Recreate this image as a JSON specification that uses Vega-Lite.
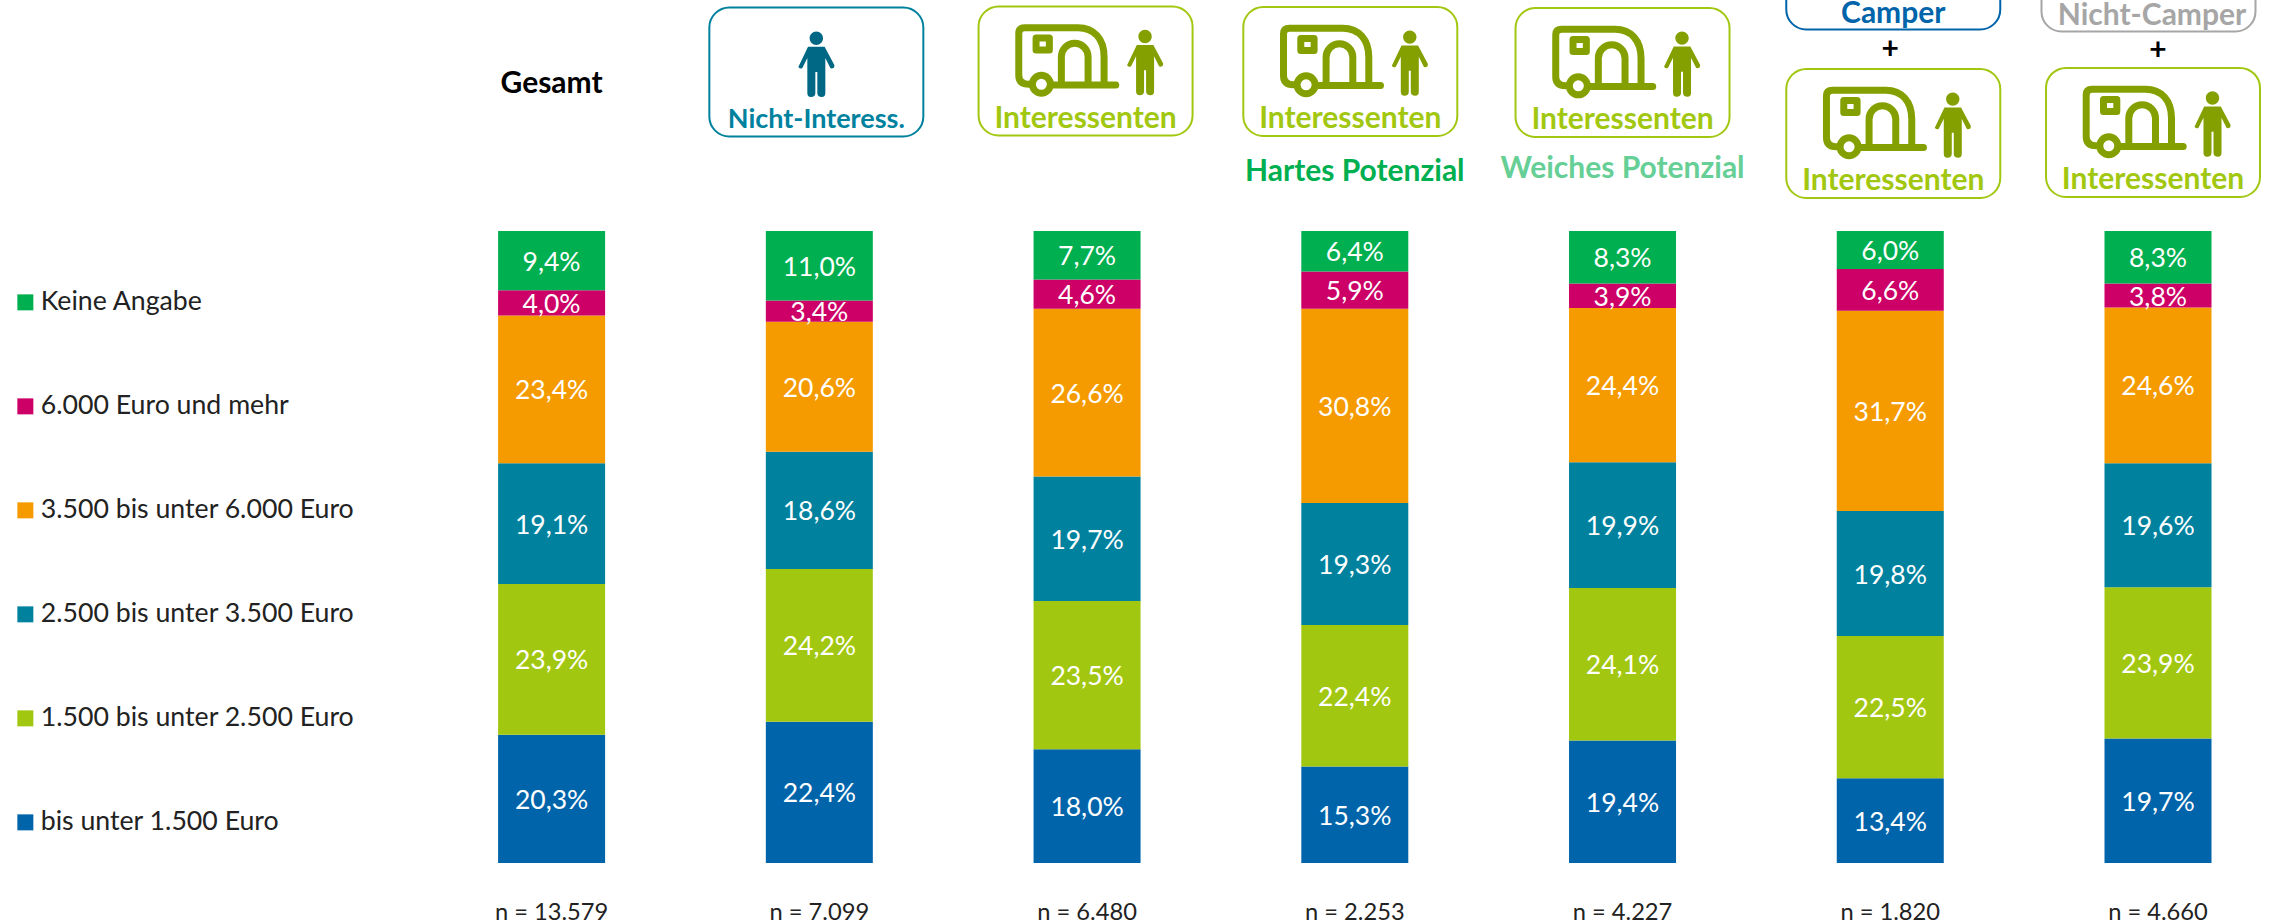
{
"$schema":"https://vega.github.io/schema/vega-lite/v6.json",
"width":2270,"height":924,"padding":0,
"autosize":{"type":"none"},
"background":"white",
"config":{"view":{"stroke":null},"text":{"font":"Lato"}},
"datasets":{
"segments":[
{"col":"Gesamt","band":"bis unter 1.500 Euro","rank":1,"value":20.3},{"col":"Gesamt","band":"1.500 bis unter 2.500 Euro","rank":2,"value":23.9},{"col":"Gesamt","band":"2.500 bis unter 3.500 Euro","rank":3,"value":19.1},{"col":"Gesamt","band":"3.500 bis unter 6.000 Euro","rank":4,"value":23.4},{"col":"Gesamt","band":"6.000 Euro und mehr","rank":5,"value":4.0},{"col":"Gesamt","band":"Keine Angabe","rank":6,"value":9.4},
{"col":"Nicht-Interess.","band":"bis unter 1.500 Euro","rank":1,"value":22.4},{"col":"Nicht-Interess.","band":"1.500 bis unter 2.500 Euro","rank":2,"value":24.2},{"col":"Nicht-Interess.","band":"2.500 bis unter 3.500 Euro","rank":3,"value":18.6},{"col":"Nicht-Interess.","band":"3.500 bis unter 6.000 Euro","rank":4,"value":20.6},{"col":"Nicht-Interess.","band":"6.000 Euro und mehr","rank":5,"value":3.4},{"col":"Nicht-Interess.","band":"Keine Angabe","rank":6,"value":11.0},
{"col":"Interessenten","band":"bis unter 1.500 Euro","rank":1,"value":18.0},{"col":"Interessenten","band":"1.500 bis unter 2.500 Euro","rank":2,"value":23.5},{"col":"Interessenten","band":"2.500 bis unter 3.500 Euro","rank":3,"value":19.7},{"col":"Interessenten","band":"3.500 bis unter 6.000 Euro","rank":4,"value":26.6},{"col":"Interessenten","band":"6.000 Euro und mehr","rank":5,"value":4.6},{"col":"Interessenten","band":"Keine Angabe","rank":6,"value":7.7},
{"col":"Hartes Potenzial","band":"bis unter 1.500 Euro","rank":1,"value":15.3},{"col":"Hartes Potenzial","band":"1.500 bis unter 2.500 Euro","rank":2,"value":22.4},{"col":"Hartes Potenzial","band":"2.500 bis unter 3.500 Euro","rank":3,"value":19.3},{"col":"Hartes Potenzial","band":"3.500 bis unter 6.000 Euro","rank":4,"value":30.8},{"col":"Hartes Potenzial","band":"6.000 Euro und mehr","rank":5,"value":5.9},{"col":"Hartes Potenzial","band":"Keine Angabe","rank":6,"value":6.4},
{"col":"Weiches Potenzial","band":"bis unter 1.500 Euro","rank":1,"value":19.4},{"col":"Weiches Potenzial","band":"1.500 bis unter 2.500 Euro","rank":2,"value":24.1},{"col":"Weiches Potenzial","band":"2.500 bis unter 3.500 Euro","rank":3,"value":19.9},{"col":"Weiches Potenzial","band":"3.500 bis unter 6.000 Euro","rank":4,"value":24.4},{"col":"Weiches Potenzial","band":"6.000 Euro und mehr","rank":5,"value":3.9},{"col":"Weiches Potenzial","band":"Keine Angabe","rank":6,"value":8.3},
{"col":"Camper","band":"bis unter 1.500 Euro","rank":1,"value":13.4},{"col":"Camper","band":"1.500 bis unter 2.500 Euro","rank":2,"value":22.5},{"col":"Camper","band":"2.500 bis unter 3.500 Euro","rank":3,"value":19.8},{"col":"Camper","band":"3.500 bis unter 6.000 Euro","rank":4,"value":31.7},{"col":"Camper","band":"6.000 Euro und mehr","rank":5,"value":6.6},{"col":"Camper","band":"Keine Angabe","rank":6,"value":6.0},
{"col":"Nicht-Camper","band":"bis unter 1.500 Euro","rank":1,"value":19.7},{"col":"Nicht-Camper","band":"1.500 bis unter 2.500 Euro","rank":2,"value":23.9},{"col":"Nicht-Camper","band":"2.500 bis unter 3.500 Euro","rank":3,"value":19.6},{"col":"Nicht-Camper","band":"3.500 bis unter 6.000 Euro","rank":4,"value":24.6},{"col":"Nicht-Camper","band":"6.000 Euro und mehr","rank":5,"value":3.8},{"col":"Nicht-Camper","band":"Keine Angabe","rank":6,"value":8.3}
],
"counts":[{"col":"Gesamt","n":"n = 13.579"},{"col":"Nicht-Interess.","n":"n = 7.099"},{"col":"Interessenten","n":"n = 6.480"},{"col":"Hartes Potenzial","n":"n = 2.253"},{"col":"Weiches Potenzial","n":"n = 4.227"},{"col":"Camper","n":"n = 1.820"},{"col":"Nicht-Camper","n":"n = 4.660"}],
"boxes":[
{"col":"Nicht-Interess.","label":"Nicht-Interess.","level":1.2516},
{"col":"Interessenten","label":"Interessenten","level":1.2532},
{"col":"Hartes Potenzial","label":"Interessenten","level":1.2524},
{"col":"Weiches Potenzial","label":"Interessenten","level":1.2508},
{"col":"Camper","label":"Interessenten","level":1.1543},
{"col":"Nicht-Camper","label":"Interessenten","level":1.1559},
{"col":"Camper","label":"Camper","level":1.4209},
{"col":"Nicht-Camper","label":"Nicht-Camper","level":1.4177}
],
"captions":[
{"col":"Gesamt","label":"Gesamt","level":1.2342},
{"col":"Hartes Potenzial","label":"Hartes Potenzial","level":1.0965},
{"col":"Weiches Potenzial","label":"Weiches Potenzial","level":1.0997},
{"col":"Camper","label":"+","level":1.2880},
{"col":"Nicht-Camper","label":"+","level":1.2864}
]
},
"encoding":{"x":{"field":"col","type":"nominal","axis":null,"scale":{"type":"point","padding":0,"domain":["Gesamt","Nicht-Interess.","Interessenten","Hartes Potenzial","Weiches Potenzial","Camper","Nicht-Camper"],"range":[551.6,2158]}}},
"layer":[
{"data":{"name":"segments"},
 "transform":[{"stack":"value","groupby":["col"],"offset":"normalize","sort":[{"field":"rank","order":"ascending"}],"as":["y0","y1"]},{"calculate":"(datum.y0+datum.y1)/2","as":"mid"},{"calculate":"replace(format(datum.value,'.1f'),'.',',')+'%'","as":"txt"}],
 "layer":[
  {"mark":{"type":"bar","width":107},
   "encoding":{"y":{"field":"y1","type":"quantitative","axis":null,"scale":{"domain":[-0.0965,1.3655],"nice":false,"zero":false}},"y2":{"field":"y0"},
   "color":{"field":"band","type":"nominal","scale":{"domain":["Keine Angabe","6.000 Euro und mehr","3.500 bis unter 6.000 Euro","2.500 bis unter 3.500 Euro","1.500 bis unter 2.500 Euro","bis unter 1.500 Euro"],"range":["#00AF50","#CC0066","#F59B00","#00829F","#A2C711","#0064AB"]},
    "legend":{"title":null,"orient":"none","legendX":12,"legendY":289,"padding":0,"symbolType":"square","symbolSize":256,"symbolStrokeWidth":0,"symbolOpacity":1,"labelFont":"Lato","labelFontSize":26.7,"labelColor":"#222222","labelOffset":2,"rowPadding":76,"labelLimit":500}}}},
  {"mark":{"type":"text","font":"Lato","fontSize":26.5,"color":"white","dy":2},
   "encoding":{"y":{"field":"mid","type":"quantitative","axis":null,"scale":{"domain":[-0.0965,1.3655],"nice":false,"zero":false}},"text":{"field":"txt"}}}
 ]},
{"data":{"name":"counts"},"mark":{"type":"text","font":"Lato","fontSize":23.7,"color":"#222222"},
 "encoding":{"y":{"datum":-0.0791,"type":"quantitative","axis":null,"scale":{"domain":[-0.0965,1.3655],"nice":false,"zero":false}},"text":{"field":"n"}}},
{"data":{"name":"boxes"},"layer":[
 {"mark":{"type":"rect","width":214,"height":129,"cornerRadius":20,"fill":"white","strokeWidth":2,"xOffset":{"expr":"{'Nicht-Interess.':-3,'Interessenten':-1.5,'Hartes Potenzial':-4.5,'Weiches Potenzial':0,'Camper':3,'Nicht-Camper':datum.label=='Nicht-Camper'?-9.5:-5}[datum.col]"}},
  "encoding":{"y":{"field":"level","type":"quantitative","axis":null,"scale":{"domain":[-0.0965,1.3655],"nice":false,"zero":false}},
  "stroke":{"field":"label","type":"nominal","legend":null,"scale":{"domain":["Nicht-Interess.","Interessenten","Camper","Nicht-Camper"],"range":["#00829F","#A2C711","#0064AB","#A6A6A6"]}}}},
 {"transform":[{"filter":"datum.label=='Interessenten'"}],
  "mark":{"type":"point","filled":false,"fill":"transparent","stroke":"#84A000","strokeWidth":7,"strokeCap":"round","strokeJoin":"round","opacity":1,"size":4,"yOffset":-11,
   "shape":"M-13.3 25L48.7 25M37 23.3L37 -3.3C37 -21 27 -32.3 11 -32.3L-42.3 -32.3Q-48.3 -32.3 -48.3 -26.7L-48.3 15Q-48.3 24.3 -38.3 24.3M-5.7 23.3L-5.7 -3.3A13.3 13.3 0 0 1 21 -3.3L21 23.3M-31 -22L-17.7 -22L-17.7 -10L-31 -10ZM-34.7 24.3a9 9 0 1 0 18 0a9 9 0 1 0 -18 0",
   "xOffset":{"expr":"{'Interessenten':-1.5,'Hartes Potenzial':-4.5,'Weiches Potenzial':0,'Camper':3,'Nicht-Camper':-5}[datum.col]-18.5"}},
  "encoding":{"y":{"field":"level","type":"quantitative","axis":null,"scale":{"domain":[-0.0965,1.3655],"nice":false,"zero":false}}}},
 {"transform":[{"filter":"datum.label=='Interessenten'"}],
  "mark":{"type":"point","filled":true,"fill":"#84A000","stroke":null,"opacity":1,"size":4,"yOffset":-7.7,
   "shape":"M0 -33.4a6.7 6.7 0 1 0 0 13.4a6.7 6.7 0 1 0 0 -13.4ZM-8.3 -18.3L8.3 -18.3L18 0Q18.5 3.5 15 3.5L14 3L9 -7L9 28Q9 32 5.5 32Q1 32 1 28L1 7L-1 7L-1 28Q-1 32 -5.5 32Q-9 32 -9 28L-9 -7L-14 3Q-16 4.5 -18 2Z",
   "xOffset":{"expr":"{'Interessenten':-1.5,'Hartes Potenzial':-4.5,'Weiches Potenzial':0,'Camper':3,'Nicht-Camper':-5}[datum.col]+59.5"}},
  "encoding":{"y":{"field":"level","type":"quantitative","axis":null,"scale":{"domain":[-0.0965,1.3655],"nice":false,"zero":false}}}},
 {"transform":[{"filter":"datum.label=='Nicht-Interess.'"}],
  "mark":{"type":"point","filled":true,"fill":"#006884","stroke":null,"opacity":1,"size":4,"yOffset":-7,"xOffset":-3,
   "shape":"M0 -33.4a6.7 6.7 0 1 0 0 13.4a6.7 6.7 0 1 0 0 -13.4ZM-8.3 -18.3L8.3 -18.3L18 0Q18.5 3.5 15 3.5L14 3L9 -7L9 28Q9 32 5.5 32Q1 32 1 28L1 7L-1 7L-1 28Q-1 32 -5.5 32Q-9 32 -9 28L-9 -7L-14 3Q-16 4.5 -18 2Z"},
  "encoding":{"y":{"field":"level","type":"quantitative","axis":null,"scale":{"domain":[-0.0965,1.3655],"nice":false,"zero":false}}}},
 {"mark":{"type":"text","font":"Lato","fontWeight":"bold","fontSize":{"expr":"datum.label=='Nicht-Interess.'?27:30"},"dy":{"expr":"datum.level>1.4?49:48"},"dx":{"expr":"{'Nicht-Interess.':-3,'Interessenten':-1.5,'Hartes Potenzial':-4.5,'Weiches Potenzial':0,'Camper':3,'Nicht-Camper':datum.label=='Nicht-Camper'?-6:-5}[datum.col]"}},
  "encoding":{"y":{"field":"level","type":"quantitative","axis":null,"scale":{"domain":[-0.0965,1.3655],"nice":false,"zero":false}},"text":{"field":"label"},
  "fill":{"field":"label","type":"nominal","legend":null,"scale":{"domain":["Nicht-Interess.","Interessenten","Camper","Nicht-Camper","Gesamt","+","Hartes Potenzial","Weiches Potenzial"],"range":["#00829F","#A2C711","#0064AB","#A6A6A6","#000000","#000000","#00AF50","#66CF96"]}}}}
]},
{"data":{"name":"captions"},"mark":{"type":"text","font":"Lato","fontWeight":"bold","fontSize":30,"dy":1.5},
 "encoding":{"y":{"field":"level","type":"quantitative","axis":null,"scale":{"domain":[-0.0965,1.3655],"nice":false,"zero":false}},"text":{"field":"label"},
 "fill":{"field":"label","type":"nominal","legend":null,"scale":{"domain":["Nicht-Interess.","Interessenten","Camper","Nicht-Camper","Gesamt","+","Hartes Potenzial","Weiches Potenzial"],"range":["#00829F","#A2C711","#0064AB","#A6A6A6","#000000","#000000","#00AF50","#66CF96"]}}}}
]
}
